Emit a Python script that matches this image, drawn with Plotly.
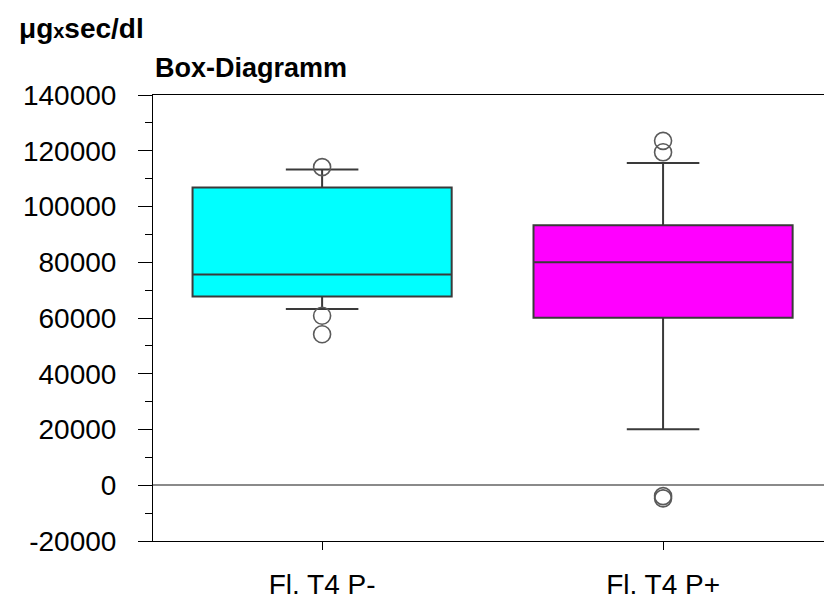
import plotly.graph_objects as go

categories = ["Fl. T4 P-", "Fl. T4 P+"]
q1 = [67750, 60070]
median = [75650, 80000]
q3 = [106800, 93240]
lower_whisker = [63260, 20070]
upper_whisker = [113280, 115650]
outliers = [
    [114130, 60800, 54160],
    [123550, 119440, -3900, -4700],
]
fill_colors = ["#00FFFF", "#FF00FF"]
y_ticks = [-20000, 0, 20000, 40000, 60000, 80000, 100000, 120000, 140000]
y_tick_labels = ["-20000", "0", "20000", "40000", "60000", "80000", "100000", "120000", "140000"]

FONT = "Liberation Sans, Arial, sans-serif"

fig = go.Figure()
for i, cat in enumerate(categories):
    fig.add_trace(go.Box(
        x=[cat], q1=[q1[i]], median=[median[i]], q3=[q3[i]],
        lowerfence=[lower_whisker[i]], upperfence=[upper_whisker[i]],
        fillcolor=fill_colors[i], line=dict(color="#3a3a3a", width=2),
        width=0.76, whiskerwidth=0.28, boxpoints=False, showlegend=False,
        hoverinfo="skip",
    ))
    fig.add_trace(go.Scatter(
        x=[cat] * len(outliers[i]), y=outliers[i], mode="markers",
        marker=dict(symbol="circle-open", size=17, color="#5a5a5a",
                    line=dict(width=1.6, color="#5a5a5a")),
        showlegend=False, hoverinfo="skip",
    ))

L, R, T, B = 153, 0, 95, 53
pw = 824 - L - R
ph = 600 - T - B

def px(xp):
    return (xp - L) / pw

def py(yp):
    return (600 - B - yp) / ph

fig.update_layout(
    width=824, height=600,
    margin=dict(l=L, r=R, t=T, b=B, pad=0),
    paper_bgcolor="white", plot_bgcolor="white",
    font=dict(family=FONT, color="black"),
    xaxis=dict(
        type="category", range=[-0.496, 1.472],
        showline=True, mirror=True, linecolor="black", linewidth=1,
        ticks="outside", ticklen=8, tickcolor="black",
        tickfont=dict(size=28, family=FONT, color="black"),
        showgrid=False, zeroline=False, ticklabelstandoff=10,
    ),
    yaxis=dict(
        range=[-20000, 140000], tickvals=y_ticks, ticktext=y_tick_labels,
        showline=True, linecolor="black", linewidth=1,
        ticks="outside", ticklen=14, tickcolor="black",
        tickfont=dict(size=28, family=FONT, color="black"),
        showgrid=False, zeroline=True, zerolinecolor="#8a8a8a", zerolinewidth=1.5,
        minor=dict(dtick=10000, ticks="outside", ticklen=7, tickcolor="black", showgrid=False),
        ticklabelstandoff=16,
    ),
    annotations=[
        dict(text="<b>μg<span style='font-size:20px'>x</span>sec/dl</b>",
             xref="paper", yref="paper", x=px(17), y=py(28),
             xanchor="left", yanchor="middle", showarrow=False,
             font=dict(size=28, family=FONT, color="black")),
        dict(text="<b>Box-Diagramm</b>",
             xref="paper", yref="paper", x=px(153), y=py(68),
             xanchor="left", yanchor="middle", showarrow=False,
             font=dict(size=27, family=FONT, color="black")),
    ],
)

fig.write_html("out.html")
